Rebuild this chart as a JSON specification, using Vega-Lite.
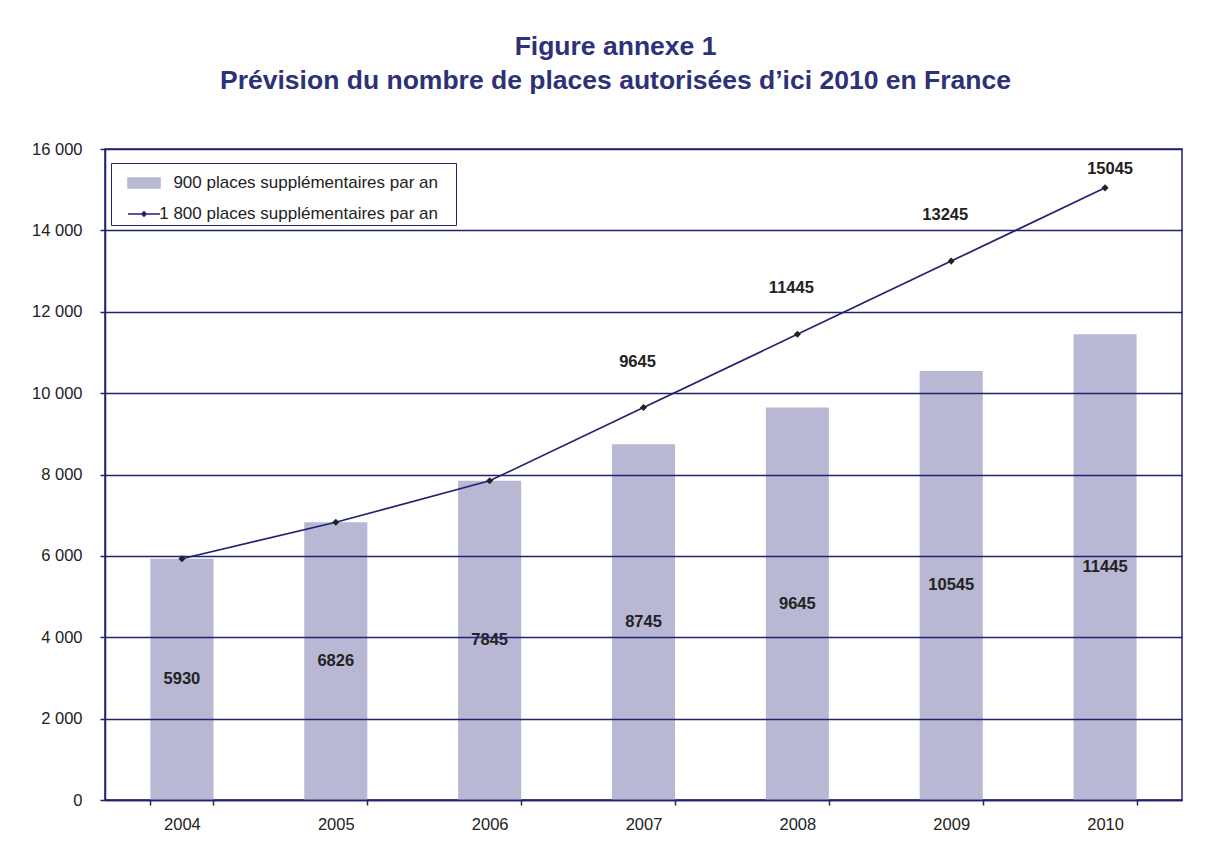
{
  "$schema": "https://vega.github.io/schema/vega-lite/v6.json",
  "width": 1077,
  "height": 651,
  "autosize": {"type": "none"},
  "padding": {"left": 105, "top": 149, "right": 26, "bottom": 67},
  "background": "white",
  "title": {
    "text": ["Figure annexe 1", "Prévision du nombre de places autorisées d’ici 2010 en France"],
    "font": "Liberation Sans",
    "fontSize": 26.5,
    "fontWeight": "bold",
    "color": "#2e3178",
    "anchor": "middle",
    "dx": -28,
    "offset": 47,
    "lineHeight": 34
  },
  "data": {
    "values": [
      {"year": "2004", "bars": 5930, "line": 5930},
      {"year": "2005", "bars": 6826, "line": 6826},
      {"year": "2006", "bars": 7845, "line": 7845},
      {"year": "2007", "bars": 8745, "line": 9645},
      {"year": "2008", "bars": 9645, "line": 11445},
      {"year": "2009", "bars": 10545, "line": 13245},
      {"year": "2010", "bars": 11445, "line": 15045}
    ]
  },
  "encoding": {
    "x": {
      "field": "year",
      "type": "nominal",
      "scale": {"paddingInner": 0.59, "paddingOuter": 0.295},
      "axis": {
        "title": null,
        "labelAngle": 0,
        "tickBand": "extent",
        "tickSize": 5,
        "tickColor": "#1f2370",
        "tickWidth": 1.5,
        "domainColor": "#1f2370",
        "domainWidth": 1.5,
        "labelFont": "Liberation Sans",
        "labelFontSize": 16.5,
        "labelColor": "#222",
        "labelPadding": 11,
        "zindex": 1
      }
    }
  },
  "layer": [
    {
      "mark": {"type": "bar"},
      "encoding": {
        "y": {
          "field": "bars",
          "type": "quantitative",
          "scale": {"domain": [0, 16000], "nice": false},
          "axis": {
            "title": null,
            "values": [0, 2000, 4000, 6000, 8000, 10000, 12000, 14000, 16000],
            "labelExpr": "replace(format(datum.value, ','), ',', ' ')",
            "grid": true,
            "gridColor": "#1f2370",
            "gridWidth": 1.3,
            "gridOpacity": 1,
            "tickColor": "#1f2370",
            "tickWidth": 1.5,
            "tickSize": 5,
            "domainColor": "#1f2370",
            "domainWidth": 1.5,
            "labelFont": "Liberation Sans",
            "labelFontSize": 16.5,
            "labelColor": "#222",
            "labelPadding": 18,
            "zindex": 1
          }
        },
        "color": {
          "datum": "900 places supplémentaires par an",
          "type": "nominal",
          "scale": {
            "domain": ["900 places supplémentaires par an", "1 800 places supplémentaires par an"],
            "range": ["#b8b8d4", "#1f2370"]
          },
          "legend": {
            "orient": "none",
            "legendX": 6,
            "legendY": 14,
            "title": null,
            "strokeColor": "#1f2370",
            "fillColor": "white",
            "padding": 3,
            "labelFont": "Liberation Sans",
            "labelFontSize": 17,
            "labelColor": "#222",
            "rowPadding": 6,
            "symbolSize": 100,
            "symbolOffset": 13,
            "labelOffset": 15,
            "labelLimit": 400,
            "encode": {
              "symbols": {
                "update": {
                  "shape": {"signal": "datum.value === '900 places supplémentaires par an' ? 'M-1,-0.31H1V0.31H-1ZM19.1,0L19.1,0' : 'M-1,0H1M0,-0.14L0.14,0L0,0.14L-0.14,0Z'"},
                  "fill": {"signal": "datum.value === '900 places supplémentaires par an' ? '#b8b8d4' : '#222'"},
                  "stroke": {"signal": "datum.value === '900 places supplémentaires par an' ? 'transparent' : '#1f2370'"},
                  "strokeWidth": {"value": 1.5},
                  "size": {"value": 1024},
                  "opacity": {"value": 1}
                }
              },
              "labels": {
                "update": {
                  "align": {"value": "right"},
                  "x": {"value": 324}
                }
              }
            }
          }
        }
      }
    },
    {
      "mark": {"type": "line", "strokeWidth": 1.7},
      "encoding": {
        "y": {"field": "line", "type": "quantitative"},
        "color": {"datum": "1 800 places supplémentaires par an", "type": "nominal"}
      }
    },
    {
      "mark": {"type": "point", "shape": "diamond", "filled": true, "color": "#222", "size": 50, "opacity": 1},
      "encoding": {
        "y": {"field": "line", "type": "quantitative"}
      }
    },
    {
      "transform": [{"calculate": "datum.bars / 2", "as": "mid"}],
      "mark": {"type": "text", "font": "Liberation Sans", "fontSize": 16.5, "fontWeight": "bold", "color": "#222"},
      "encoding": {
        "y": {"field": "mid", "type": "quantitative"},
        "text": {"field": "bars", "type": "quantitative", "format": "d"}
      }
    },
    {
      "transform": [{"filter": {"field": "year", "oneOf": ["2007", "2008", "2009"]}}],
      "mark": {"type": "text", "font": "Liberation Sans", "fontSize": 16.5, "fontWeight": "bold", "color": "#222", "dy": -46, "dx": -6},
      "encoding": {
        "y": {"field": "line", "type": "quantitative"},
        "text": {"field": "line", "type": "quantitative", "format": "d"}
      }
    },
    {
      "transform": [{"filter": {"field": "year", "oneOf": ["2010"]}}],
      "mark": {"type": "text", "font": "Liberation Sans", "fontSize": 16.5, "fontWeight": "bold", "color": "#222", "dy": -19, "dx": 5},
      "encoding": {
        "y": {"field": "line", "type": "quantitative"},
        "text": {"field": "line", "type": "quantitative", "format": "d"}
      }
    }
  ],
  "config": {
    "view": {"stroke": "#1f2370", "strokeWidth": 1.5}
  }
}
